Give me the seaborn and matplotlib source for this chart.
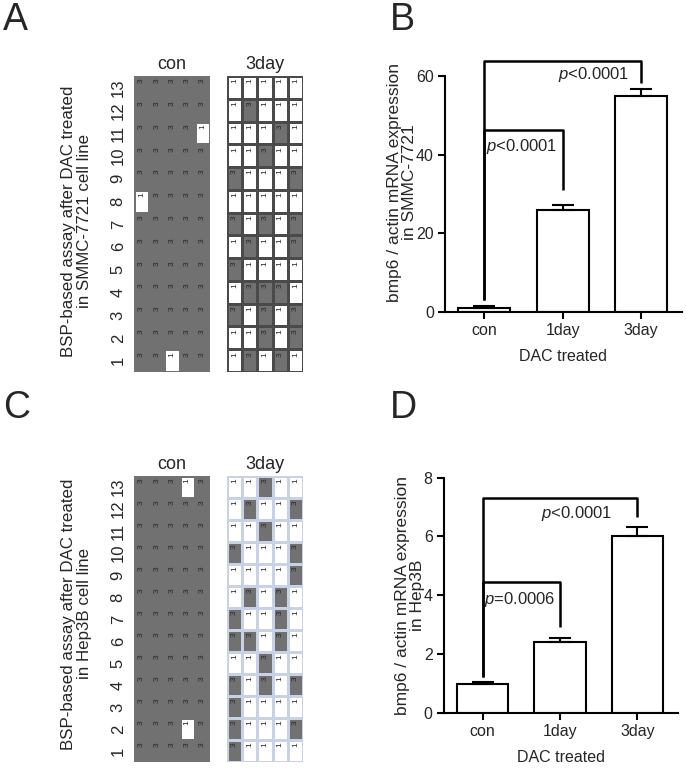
# BSP methylation grids + bmp6 qPCR bars (SMMC-7721 and Hep3B)
import numpy as np
import pandas as pd
import matplotlib
matplotlib.use('Agg')
import matplotlib.pyplot as plt
import seaborn as sns
from matplotlib.colors import ListedColormap

sns.set_theme(style='white')
plt.rcParams['font.family'] = ['Liberation Sans', 'DejaVu Sans']
plt.rcParams['mathtext.fontset'] = 'custom'
plt.rcParams['mathtext.it'] = 'Liberation Sans:italic'
plt.rcParams['mathtext.rm'] = 'Liberation Sans'

# CpG sites listed top (13) to bottom (1), 5 clones each; 1 = methylated
sites = list(range(13, 0, -1))

a_con = [
    [1, 1, 1, 1, 1],
    [1, 1, 1, 1, 1],
    [1, 1, 1, 1, 0],
    [1, 1, 1, 1, 1],
    [1, 1, 1, 1, 1],
    [0, 1, 1, 1, 1],
    [1, 1, 1, 1, 1],
    [1, 1, 1, 1, 1],
    [1, 1, 1, 1, 1],
    [1, 1, 1, 1, 1],
    [1, 1, 1, 1, 1],
    [1, 1, 1, 1, 1],
    [1, 1, 0, 1, 1],
]
a_3day = [
    [0, 0, 0, 0, 0],
    [0, 1, 0, 0, 0],
    [0, 0, 0, 1, 0],
    [0, 0, 1, 0, 0],
    [1, 0, 0, 0, 1],
    [0, 0, 0, 0, 0],
    [1, 0, 1, 0, 1],
    [0, 1, 0, 0, 1],
    [1, 0, 0, 0, 0],
    [0, 1, 1, 1, 0],
    [1, 0, 1, 0, 1],
    [0, 0, 1, 0, 1],
    [0, 1, 0, 1, 0],
]
c_con = [
    [1, 1, 1, 0, 1],
    [1, 1, 1, 1, 1],
    [1, 1, 1, 1, 1],
    [1, 1, 1, 1, 1],
    [1, 1, 1, 1, 1],
    [1, 1, 1, 1, 1],
    [1, 1, 1, 1, 1],
    [1, 1, 1, 1, 1],
    [1, 1, 1, 1, 1],
    [1, 1, 1, 1, 1],
    [1, 1, 1, 1, 1],
    [1, 1, 1, 0, 1],
    [1, 1, 1, 1, 1],
]
c_3day = [
    [0, 0, 1, 0, 0],
    [0, 1, 0, 0, 1],
    [0, 0, 1, 0, 0],
    [1, 0, 0, 0, 1],
    [0, 0, 0, 0, 1],
    [0, 1, 0, 1, 0],
    [1, 0, 0, 1, 0],
    [1, 1, 0, 1, 0],
    [0, 0, 1, 0, 0],
    [1, 0, 1, 0, 1],
    [1, 0, 0, 0, 0],
    [1, 0, 0, 0, 1],
    [1, 0, 0, 0, 0],
]

groups = ['con', '1day', '3day']
b_mean = [1.1, 25.8, 55.0]
b_err = [0.3, 1.5, 1.7]
d_mean = [0.98, 2.42, 6.03]
d_err = [0.08, 0.11, 0.28]

# brackets: (left group, right group, height, left leg end, right leg end, text, text x, text y)
b_brackets = [
    (0, 2, 63.9, 3.0, 58.1, '$\\it{p}$<0.0001', 1.40, 60.3),
    (0, 1, 46.3, 3.0, 31.0, '$\\it{p}$<0.0001', 0.48, 42.0),
]
d_brackets = [
    (0, 2, 7.30, 1.22, 6.65, '$\\it{p}$<0.0001', 1.21, 6.79),
    (0, 1, 4.46, 1.22, 2.93, '$\\it{p}$=0.0006', 0.48, 3.86),
]

GRAY = '#717171'


def methyl_grid(ax, data, title, line_color, show_sites):
    df = pd.DataFrame(data, index=sites)
    labels = np.where(df.values == 1, '3', '1')
    sns.heatmap(df, ax=ax, cmap=ListedColormap(['white', GRAY]), vmin=0, vmax=1,
                cbar=False, linewidths=0.75, linecolor=line_color,
                annot=labels, fmt='',
                annot_kws={'fontsize': 6, 'color': '#262626'},
                xticklabels=False, yticklabels=sites if show_sites else False)
    # numbers are turned sideways and sit near the top of each cell
    for t in ax.texts:
        x, y = t.get_position()
        t.set_position((x, y - 0.28))
        t.set_rotation(90)
    ax.set_title(title, fontsize=13, pad=5)
    ax.set_ylabel('')
    ax.tick_params(axis='y', length=0, pad=6, labelsize=12, labelrotation=90)


def bar_panel(ax, mean, err, ymax, ytop, yticks, ylabel, brackets):
    sns.barplot(x=groups, y=mean, color='white', edgecolor='black', linewidth=1.5,
                width=0.66, saturation=1, errorbar=None, ax=ax)
    ax.errorbar(range(len(groups)), mean, yerr=[[0] * len(err), err], fmt='none',
                ecolor='black', elinewidth=1.5, capsize=8, capthick=1.5)
    for i, j, h, lb, rb, txt, tx, ty in brackets:
        ax.plot([i, i, j, j], [lb, h, h, rb], color='black', lw=1.8,
                solid_capstyle='butt', clip_on=False)
        ax.text(tx, ty, txt, fontsize=12, ha='center', va='center')
    ax.set_xlim(-0.5, 2.52)
    ax.set_ylim(0, ytop)
    ax.set_yticks(yticks)
    sns.despine(ax=ax)
    for s in ['left', 'bottom']:
        ax.spines[s].set_linewidth(1.5)
        ax.spines[s].set_color('black')
    ax.spines['left'].set_bounds(0, ymax)
    ax.tick_params(axis='both', direction='out', length=5, width=1.5, color='black',
                   labelsize=11.5, bottom=True, left=True, pad=3)
    ax.set_ylabel(ylabel, fontsize=12.5, labelpad=-1, linespacing=1.05)
    ax.set_xlabel('DAC treated', fontsize=11.5, labelpad=8)


fig = plt.figure(figsize=(6.86, 7.76), dpi=100)

# panel A
ax = fig.add_axes([0.1953, 0.5206, 0.1108, 0.3814])
methyl_grid(ax, a_con, 'con', GRAY, True)
ax = fig.add_axes([0.3309, 0.5206, 0.1108, 0.3814])
methyl_grid(ax, a_3day, '3day', '#4a4a4a', False)
fig.text(0.112, 0.715, 'BSP-based assay after DAC treated\nin SMMC-7721 cell line',
         rotation=90, ha='center', va='center', fontsize=12.2, multialignment='center',
         linespacing=1.1)

# panel C
ax = fig.add_axes([0.1953, 0.018, 0.1108, 0.3686])
methyl_grid(ax, c_con, 'con', GRAY, True)
ax = fig.add_axes([0.3309, 0.018, 0.1108, 0.3686])
methyl_grid(ax, c_3day, '3day', '#c8d2e6', False)
fig.text(0.112, 0.209, 'BSP-based assay after DAC treated\nin Hep3B cell line',
         rotation=90, ha='center', va='center', fontsize=12.2, multialignment='center',
         linespacing=1.1)

# panel B
ax = fig.add_axes([0.6487, 0.598, 0.3453, 0.3345])
bar_panel(ax, b_mean, b_err, 60, 66, [0, 20, 40, 60],
          'bmp6 / actin mRNA expression\nin SMMC-7721', b_brackets)

# panel D
ax = fig.add_axes([0.647, 0.0816, 0.341, 0.3028])
bar_panel(ax, d_mean, d_err, 8, 8, [0, 2, 4, 6, 8],
          'bmp6 / actin mRNA expression\nin Hep3B', d_brackets)

for x, y, letter in [(0.004, 0.997, 'A'), (0.568, 0.997, 'B'),
                     (0.004, 0.497, 'C'), (0.568, 0.497, 'D')]:
    fig.text(x, y, letter, fontsize=27, va='top', ha='left')

fig.savefig('out.png', dpi=100)
